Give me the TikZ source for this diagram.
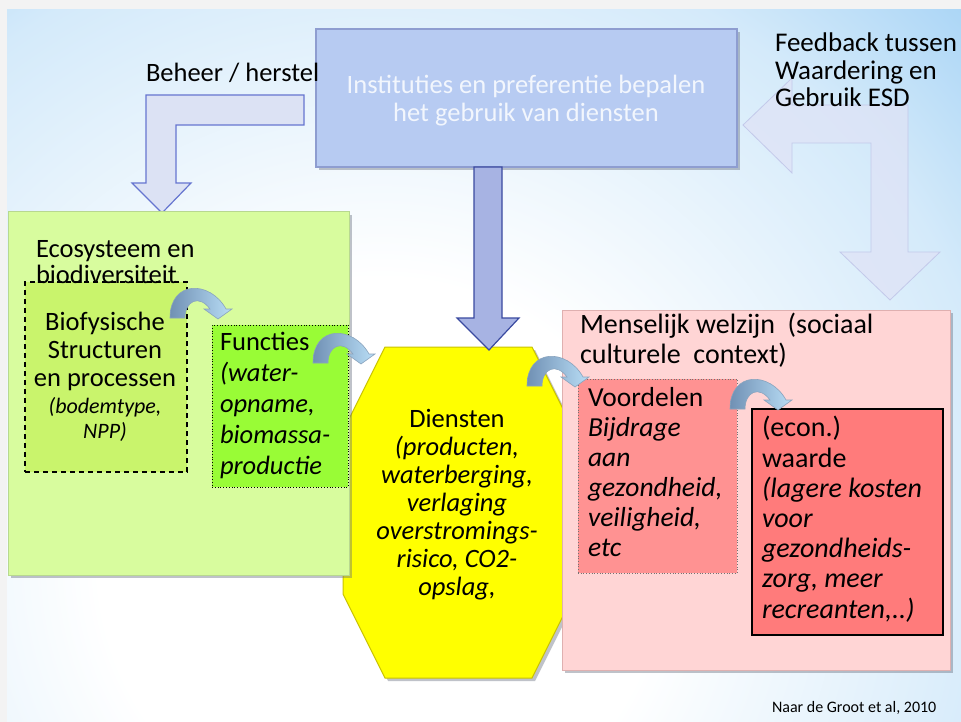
\documentclass[tikz,border=0pt]{standalone}
\usepackage{fontspec}
\setmainfont{Carlito}
\usetikzlibrary{shadows}
\definecolor{pagebg}{HTML}{F3F3F3}
\definecolor{bglight}{HTML}{D4EAFA}
\definecolor{bgblue}{HTML}{A0D0F5}
\definecolor{instfill}{HTML}{B7CBF2}
\definecolor{instdraw}{HTML}{8E9DD0}
\definecolor{beheerfill}{HTML}{DCE2F4}
\definecolor{beheerdraw}{HTML}{6675D0}
\definecolor{fbfill}{HTML}{DFE3F6}
\definecolor{fbdraw}{HTML}{C3C9EA}
\definecolor{downfill}{HTML}{A7B3E3}
\definecolor{downdraw}{HTML}{3A4AA0}
\definecolor{ecofill}{HTML}{D8FC9E}
\definecolor{ecodraw}{HTML}{B8D890}
\definecolor{biofill}{HTML}{C9F46C}
\definecolor{funcfill}{HTML}{99FC36}
\definecolor{yel}{HTML}{FFFF00}
\definecolor{yeldraw}{HTML}{C9C200}
\definecolor{mensfill}{HTML}{FFD5D5}
\definecolor{mensdraw}{HTML}{DFB0B0}
\definecolor{voorfill}{HTML}{FF9292}
\definecolor{waardefill}{HTML}{FF7B7B}
\definecolor{cvl}{HTML}{7090B4}
\definecolor{cvr}{HTML}{B9DEF6}
\definecolor{cvd}{HTML}{8AA4BE}
\definecolor{textwhite}{HTML}{F2F6FD}
\definecolor{shadowc}{HTML}{606878}
\pgfdeclareradialshading{bgshade}{\pgfpoint{0bp}{0bp}}{color(0bp)=(white); color(7.8bp)=(white); color(17.7bp)=(bglight); color(23.6bp)=(bgblue); color(50bp)=(bgblue)}
\tikzset{
  box/.style={inner sep=0, outer sep=0, anchor=north west},
  myshadow/.style={drop shadow={shadow xshift=3pt, shadow yshift=-3pt, fill=shadowc, opacity=0.4}},
  txt/.style={inner sep=0, outer sep=0, align=left, anchor=base west},
  curvarr/.pic={
    \shadedraw[left color=cvl, right color=cvr, draw=cvd, line width=0.6pt]
      (0,31) -- (15,31) .. controls (15,14) and (29,7) .. (40,22)
      -- (34,22) -- (48,32) -- (62,22) -- (56,22)
      .. controls (40,-7) and (0,-7) .. (0,31) -- cycle;
  }
}
\begin{document}
\begin{tikzpicture}[x=1pt,y=-1pt]
\useasboundingbox (0,0) rectangle (961,722);
\fill[pagebg] (0,0) rectangle (961,722);
\begin{scope}
  \clip (7,10) rectangle (961,722);
  \shade[shading=bgshade] (-520,-340) rectangle (1280,1460);
\end{scope}

% feedback arrow (faint)
\filldraw[fill=fbfill, fill opacity=0.75, draw=fbdraw, line width=0.8pt]
  (743,125) -- (792,78) -- (792,105) -- (908,105) -- (908,252) -- (940,252)
  -- (890,300) -- (840,252) -- (871,252) -- (871,143) -- (792,143) -- (792,173) -- cycle;

% top box
\node[box, fill=instfill, draw=instdraw, line width=1.2pt, minimum width=421, minimum height=138, myshadow] (inst) at (316,29) {};

% beheer arrow
\filldraw[fill=beheerfill, draw=beheerdraw, line width=1.2pt]
  (304,95) -- (146,95) -- (146,183) -- (132,183) -- (162,213) -- (191,183)
  -- (176,183) -- (176,125) -- (304,125) -- cycle;

% hexagon Diensten
\filldraw[fill=yel, draw=yeldraw, line width=1pt, myshadow]
  (385,347) -- (532,347) -- (574,431) -- (574,594) -- (532,678) -- (385,678)
  -- (343,594) -- (343,431) -- cycle;

% down arrow
\filldraw[fill=downfill, draw=downdraw, line width=1.2pt]
  (474,167) -- (502,167) -- (502,318) -- (519,318) -- (489,350) -- (457,318)
  -- (474,318) -- cycle;

% green box
\node[box, fill=ecofill, draw=ecodraw, line width=1pt, minimum width=341, minimum height=363, myshadow] (eco) at (8,212) {};
\node[box, fill=biofill, draw=black, line width=1.2pt, dash pattern=on 5pt off 4pt, minimum width=162, minimum height=190] (bio) at (25,282) {};
\node[box, fill=funcfill, draw=black, line width=0.8pt, dotted, minimum width=136, minimum height=162] (func) at (212,325) {};

% pink box
\node[box, fill=mensfill, draw=mensdraw, line width=1pt, minimum width=388, minimum height=360, myshadow] (mens) at (562,310) {};
\node[box, fill=voorfill, draw=black!55, line width=0.7pt, dotted, minimum width=159, minimum height=194] (voor) at (578,379) {};
\node[box, fill=waardefill, draw=black, line width=1.5pt, minimum width=191, minimum height=226] (waarde) at (752,409) {};

% curved arrows
\pic at (170,287) {curvarr};
\pic at (313,332) {curvarr};
\pic at (527,355) {curvarr};
\pic at (730,378) {curvarr};

% texts (anchor = baseline of the last line)
\node[txt, font=\fontsize{26.5}{28}\selectfont] (beheerlbl) at (146,82) {Beheer / herstel};
\node[txt, font=\fontsize{27}{27.5}\selectfont] (fblbl) at (775,107) {Feedback tussen\\Waardering en\\Gebruik ESD};
\node[txt, align=center, anchor=base, text=textwhite, font=\fontsize{26.5}{28}\selectfont] (instlbl) at (526,122) {Instituties en preferentie bepalen\\het gebruik van diensten};
\node[txt, font=\fontsize{26.5}{26.5}\selectfont] (ecolbl) at (36,283.5) {Ecosysteem en\\biodiversiteit};
\node[txt, align=center, anchor=base, font=\fontsize{26.5}{28}\selectfont] (biolbl) at (105,386) {Biofysische\\Structuren\\en processen};
\node[txt, align=center, anchor=base, font=\fontsize{22}{25}\selectfont\itshape] (biolbl2) at (105,438) {(bodemtype,\\NPP)};
\node[txt, font=\fontsize{26.5}{31}\selectfont] (funclbl) at (220,474) {Functies\\\textit{(water-}\\\textit{opname,}\\\textit{biomassa-}\\\textit{productie}};
\node[txt, align=center, anchor=base, font=\fontsize{26.5}{28}\selectfont] (dienlbl) at (457,595) {Diensten\\\textit{(producten,}\\\textit{waterberging,}\\\textit{verlaging}\\\textit{overstromings-}\\\textit{risico, CO2-}\\\textit{opslag,}};
\node[txt, font=\fontsize{28}{30}\selectfont] (menslbl) at (580,363) {Menselijk welzijn\ \ (sociaal\\culturele\ \ context)};
\node[txt, font=\fontsize{27.5}{30}\selectfont] (voorlbl) at (588,556) {Voordelen\\\textit{Bijdrage}\\\textit{aan}\\\textit{gezondheid,}\\\textit{veiligheid,}\\\textit{etc}};
\node[txt, font=\fontsize{28}{30.2}\selectfont] (waardelbl) at (762,618) {(econ.)\\waarde\\\textit{(lagere kosten}\\\textit{voor}\\\textit{gezondheids-}\\\textit{zorg, meer}\\\textit{recreanten,..)}};
\node[txt, font=\fontsize{16}{18}\selectfont] (bron) at (772,712) {Naar de Groot et al, 2010};
\end{tikzpicture}
\end{document}
